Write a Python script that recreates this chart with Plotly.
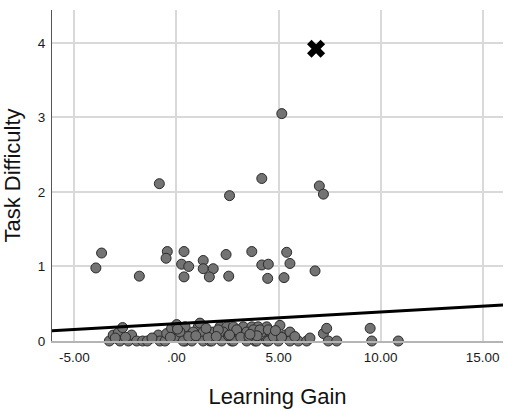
import plotly.graph_objects as go

# Upper points (Task Difficulty > 0.5)
upper_x = [-3.95, -3.67, -1.82, -0.84, -0.45, -0.51, 0.37, 0.25, 0.60, 0.37,
           1.31, 1.31, 1.80, 1.61, 2.43, 2.56, 2.60, 4.18, 5.16, 7.00,
           7.20, 3.69, 5.40, 4.18, 4.50, 5.56, 6.79, 4.47, 5.27]
upper_y = [0.98, 1.18, 0.87, 2.11, 1.20, 1.11, 1.20, 1.03, 1.00, 0.86,
           1.08, 0.97, 0.97, 0.86, 1.16, 0.87, 1.95, 2.18, 3.05, 2.08,
           1.97, 1.20, 1.19, 1.02, 1.03, 1.04, 0.94, 0.84, 0.85]

# Lower band points (Task Difficulty near 0)
lower_x = [-3.29, -3.10, -2.85, -2.64, -2.77, -2.36, -2.20, -1.95, -1.66, -1.43,
           -0.89, -0.81, -0.56, -0.48, -0.24, -0.07, 0.01, 0.25, 0.42,
           0.42, 1.07, 1.15, 2.13, 2.46, 2.79, 3.27, 3.69, 4.00, 4.42, 5.07,
           0.17, 0.82, 1.31, 1.80, 2.29, 3.03, 3.44, 4.18, 4.58, 5.32, 5.56,
           0.33, 0.75, 1.31, 1.64, 1.73, 2.21, 2.70, 2.79, 3.44, 3.85, 3.93,
           4.42, 4.50, 4.99, 5.56, 5.97, 6.38,
           2.05, 2.95, 3.77, 4.09, 4.50, 6.54,
           7.20, 7.36, 7.44, 7.85, 9.49, 9.57, 10.87,
           -3.00, -2.50, -1.20, -0.30, 0.60, 0.95, 1.55, 1.95, 2.55, 3.15,
           3.55, 3.95, 4.75, 5.15, 5.80, 0.05, 1.45, 2.60, 3.60, 4.85]
lower_y = [0.00, 0.08, 0.11, 0.18, 0.00, 0.00, 0.08, 0.00, 0.00, 0.00,
           0.08, 0.00, 0.00, 0.10, 0.17, 0.06, 0.22, 0.17, 0.00,
           0.19, 0.19, 0.24, 0.19, 0.19, 0.19, 0.19, 0.19, 0.19, 0.19, 0.21,
           0.12, 0.12, 0.12, 0.12, 0.12, 0.12, 0.12, 0.12, 0.12, 0.08, 0.12,
           0.00, 0.00, 0.00, 0.00, 0.00, 0.00, 0.00, 0.00, 0.00, 0.00, 0.00,
           0.00, 0.00, 0.00, 0.00, 0.00, 0.00,
           0.15, 0.15, 0.15, 0.15, 0.15, 0.04,
           0.10, 0.17, 0.00, 0.00, 0.17, 0.00, 0.00,
           0.04, 0.05, 0.04, 0.05, 0.06, 0.07, 0.05, 0.06, 0.07, 0.05,
           0.06, 0.07, 0.06, 0.05, 0.06, 0.16, 0.17, 0.08, 0.09, 0.14]

# Outlier marker
outlier_x = [6.84]
outlier_y = [3.92]

# Fit line (endpoints across x-range)
fit_x = [-6.1, 16.0]
fit_y = [0.138, 0.483]

x_tickvals = [-5, 0, 5, 10, 15]
x_ticktext = ["-5.00", ".00", "5.00", "10.00", "15.00"]
y_tickvals = [0, 1, 2, 3, 4]
y_ticktext = ["0", "1", "2", "3", "4"]

fig = go.Figure()
fig.add_trace(go.Scatter(
    x=upper_x + lower_x, y=upper_y + lower_y, mode="markers",
    marker=dict(size=10, color="#737373", line=dict(color="#2a2a2a", width=1)),
    cliponaxis=False, showlegend=False))
fig.add_trace(go.Scatter(
    x=fit_x, y=fit_y, mode="lines",
    line=dict(color="black", width=3), showlegend=False))
fig.add_trace(go.Scatter(
    x=outlier_x, y=outlier_y, mode="markers",
    marker=dict(symbol="x", size=16, color="black", line=dict(width=0)),
    cliponaxis=False, showlegend=False))

fig.update_layout(
    width=507, height=411,
    margin=dict(l=52, r=4, t=10, b=70),
    paper_bgcolor="white", plot_bgcolor="white",
    font=dict(family="Liberation Sans, Arial, sans-serif", color="#1a1a1a"),
    xaxis=dict(
        range=[-6.1, 16.0], tickvals=x_tickvals, ticktext=x_ticktext,
        showgrid=True, gridcolor="#d9d9d9", gridwidth=1.5, zeroline=False,
        showline=True, linecolor="#b5b5b5", linewidth=2,
        ticks="outside", ticklen=3, tickcolor="rgba(0,0,0,0)",
        tickfont=dict(size=13.5, color="#1a1a1a"),
        title=dict(text="Learning Gain", font=dict(size=22, color="#111"), standoff=24),
    ),
    yaxis=dict(
        range=[0, 4.44], tickvals=y_tickvals, ticktext=y_ticktext,
        showgrid=True, gridcolor="#d9d9d9", gridwidth=1.5, zeroline=False,
        showline=True, linecolor="#555555", linewidth=1,
        ticks="outside", ticklen=3, tickcolor="rgba(0,0,0,0)",
        tickfont=dict(size=13.5, color="#1a1a1a"),
        title=dict(text="Task Difficulty", font=dict(size=22, color="#111"), standoff=12),
    ),
)
fig.write_html("out.html")
